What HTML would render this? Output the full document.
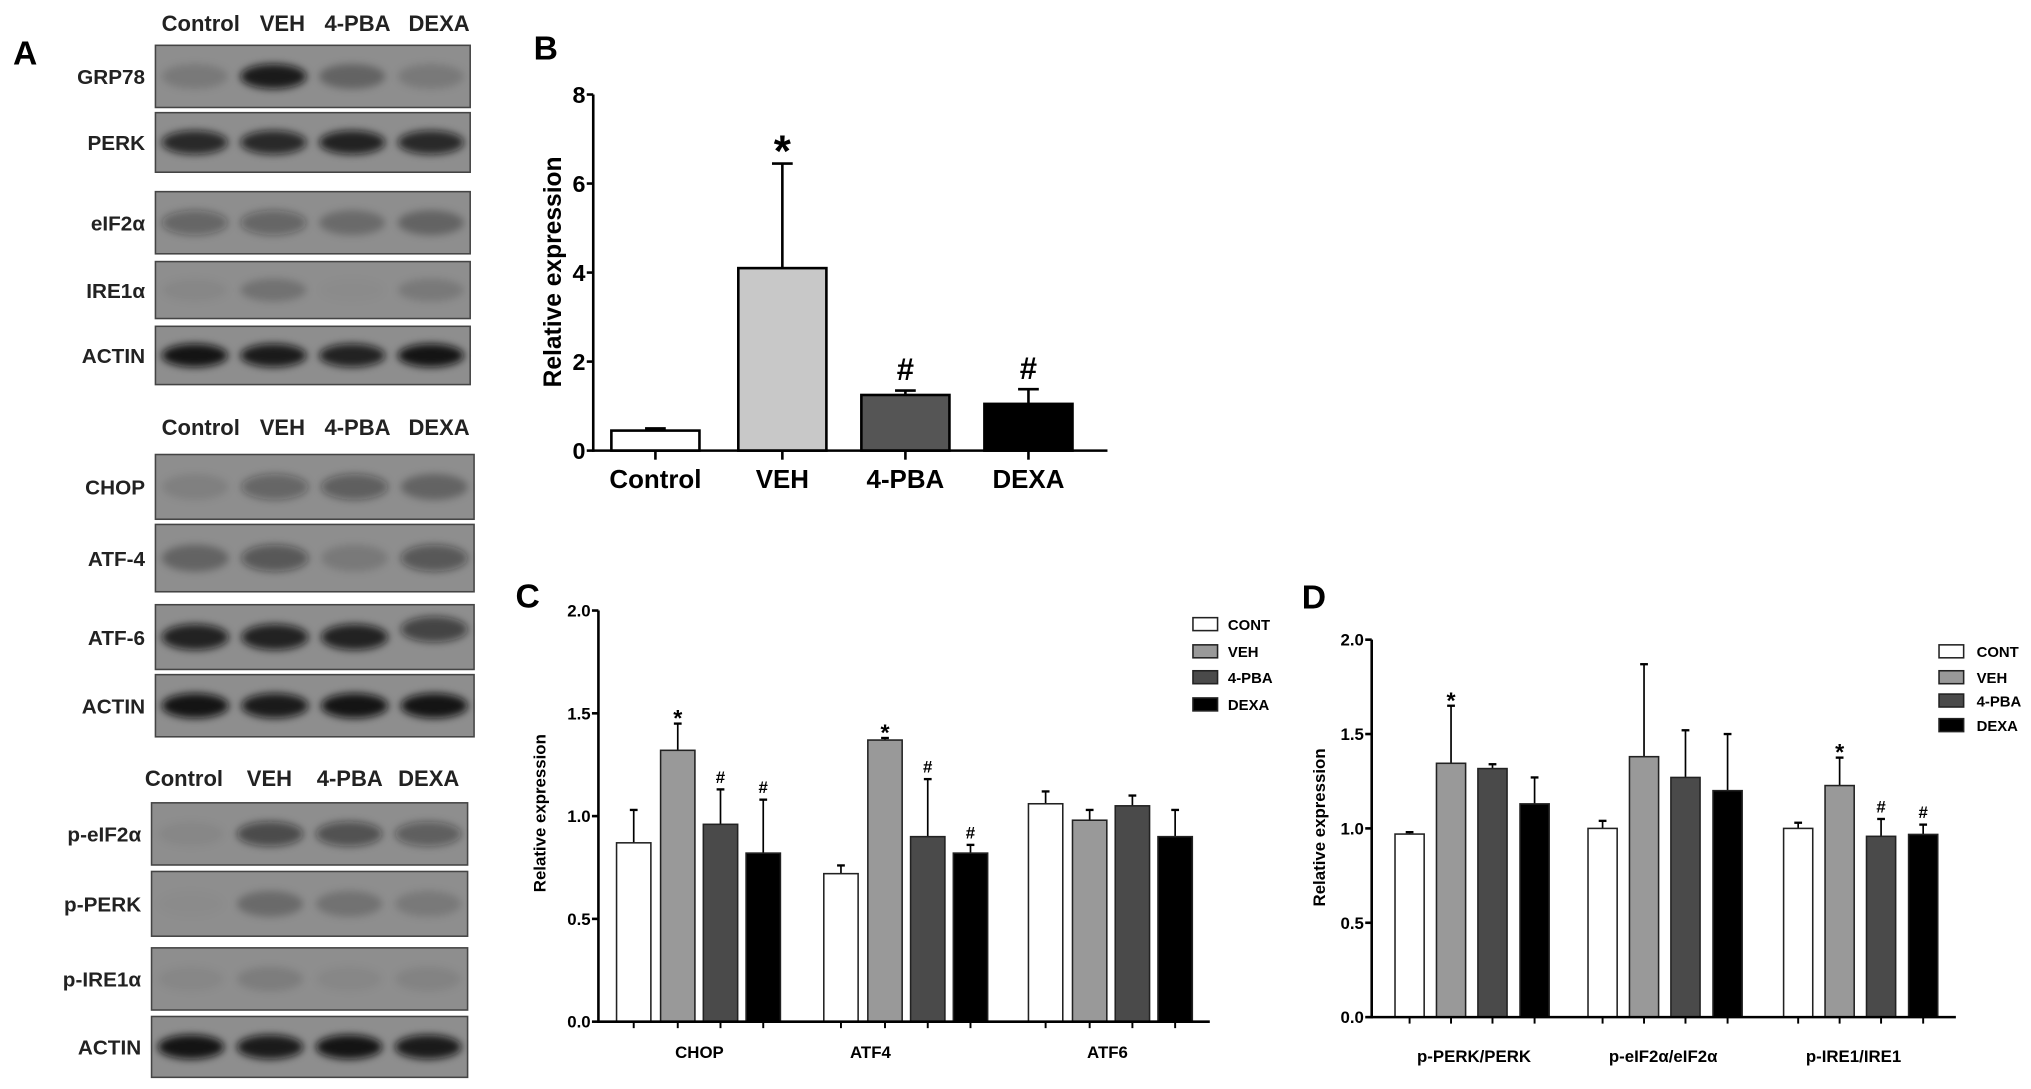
<!DOCTYPE html>
<html><head><meta charset="utf-8"><style>
html,body{margin:0;padding:0;background:#fff;}
svg{display:block;font-family:"Liberation Sans",Arial,sans-serif;}
</style></head><body>
<svg id="fig" width="2031" height="1089" viewBox="0 0 1568 841" preserveAspectRatio="none" xmlns="http://www.w3.org/2000/svg">
<defs>
<filter id="blur" x="-50%" y="-50%" width="200%" height="200%"><feGaussianBlur stdDeviation="3"/></filter>
</defs>
<g id="blots"></g>
<g id="chartB"></g>
<g id="chartC"></g>
<g id="chartD"></g>
</svg>
<script>
// ---- Panel B data ----
const bCategories = ["Control","VEH","4-PBA","DEXA"];
const bValues = [0.45, 4.1, 1.25, 1.05];
const bErrTop = [0.5, 6.45, 1.35, 1.38];
const bMarks = ["", "*", "#", "#"];
const bTicks = [0,2,4,6,8];
// ---- Panel C data ----
const cCategories = ["CHOP","ATF4","ATF6"];
const cSeries = ["CONT","VEH","4-PBA","DEXA"];
const cCONT = [0.87, 0.72, 1.06];
const cVEH = [1.32, 1.37, 0.98];
const cPBA = [0.96, 0.90, 1.05];
const cDEXA = [0.82, 0.82, 0.90];
const cErrCONT = [1.03, 0.76, 1.12];
const cErrVEH = [1.45, 1.38, 1.03];
const cErrPBA = [1.13, 1.18, 1.10];
const cErrDEXA = [1.08, 0.86, 1.03];
const cMarksVEH = ["*","*",""];
const cMarksPBA = ["#","#",""];
const cMarksDEXA = ["#","#",""];
const cTicks = ["0.0","0.5","1.0","1.5","2.0"];
// ---- Panel D data ----
const dCategories = ["p-PERK/PERK","p-eIF2\u03b1/eIF2\u03b1","p-IRE1/IRE1"];
const dCONT = [0.97, 1.0, 1.0];
const dVEH = [1.345, 1.38, 1.227];
const dPBA = [1.317, 1.27, 0.958];
const dDEXA = [1.13, 1.20, 0.968];
const dErrCONT = [0.98, 1.04, 1.03];
const dErrVEH = [1.65, 1.87, 1.375];
const dErrPBA = [1.34, 1.52, 1.05];
const dErrDEXA = [1.27, 1.50, 1.02];
const dMarksVEH = ["*","","*"];
const dMarksPBA = ["","","#"];
const dMarksDEXA = ["","","#"];
const dTicks = ["0.0","0.5","1.0","1.5","2.0"];

const NS="http://www.w3.org/2000/svg";
function mk(parent,tag,attrs,text){const e=document.createElementNS(NS,tag);for(const k in attrs)e.setAttribute(k,attrs[k]);if(text!==undefined)e.textContent=text;parent.appendChild(e);return e;}

// ---------- Blots ----------
const blots=document.getElementById('blots');
function header(y,xs){const names=["Control","VEH","4-PBA","DEXA"];names.forEach((n,i)=>{const t=mk(blots,'text',{x:xs[i],y:y,'text-anchor':'middle','font-size':17,'font-weight':'bold',fill:'#222'},n);

});}
header(24,[155,218,276,339]);header(336,[155,218,276,339]);header(607,[142,208,270,331]);
const labA=mk(blots,'text',{x:10,y:50,'font-size':26,'font-weight':'bold'},'A');

const blotRows=[
 ["GRP78",120,363,35,83,[0.15,0.9,0.3,0.15],0],
 ["PERK",120,363,87,133,[0.8,0.8,0.85,0.8],0],
 ["eIF2\u03b1",120,363,148,196,[0.35,0.35,0.25,0.3],0],
 ["IRE1\u03b1",120,363,202,246,[0.05,0.2,0.02,0.15],0],
 ["ACTIN",120,363,252,297,[0.95,0.9,0.85,0.95],0],
 ["CHOP",120,366,351,401,[0.1,0.35,0.4,0.3],0],
 ["ATF-4",120,366,405,457,[0.3,0.45,0.15,0.45],0],
 ["ATF-6",120,366,467,517,[0.85,0.85,0.85,0.6],1],
 ["ACTIN",120,366,521,569,[0.95,0.9,0.95,0.95],0],
 ["p-eIF2\u03b1",117,361,620,668,[0.05,0.55,0.5,0.4],0],
 ["p-PERK",117,361,673,723,[0.02,0.25,0.2,0.15],0],
 ["p-IRE1\u03b1",117,361,732,780,[0.05,0.12,0.05,0.08],0],
 ["ACTIN",117,361,785,832,[0.95,0.9,0.95,0.9],0]
];
blotRows.forEach((r,ri)=>{
 const [name,x1,x2,y1,y2,ints,shift]=r;
 const g=mk(blots,'g',{});
 
 
 mk(g,'rect',{x:x1,y:y1,width:x2-x1,height:y2-y1,fill:'#8e8e8e',stroke:'#444','stroke-width':1.2});
 const w=(x2-x1)/4;const cy=(y1+y2)/2;
 ints.forEach((v,i)=>{const cx=x1+w*(i+0.5);const yy=(shift&&i===3)?cy-6:cy;
  mk(g,'ellipse',{cx:cx,cy:yy,rx:w*0.42,ry:(y2-y1)*0.2,fill:'#111','fill-opacity':v,filter:'url(#blur)'});});
 const lbl=mk(g,'text',{x:x1-8,y:cy+6,'text-anchor':'end','font-size':16,'font-weight':'bold',fill:'#222'},name);
});

// ---------- generic axis helpers ----------
function yAxis(g,x,y0,yTop,vmax,ticks,fs,w){
 mk(g,'line',{x1:x,y1:y0+1,x2:x,y2:yTop,stroke:'#000','stroke-width':w});
 ticks.forEach(t=>{const v=parseFloat(t);const y=y0-(y0-yTop)*v/vmax;
  mk(g,'line',{x1:x-5,y1:y,x2:x,y2:y,stroke:'#000','stroke-width':w});
  const tt=mk(g,'text',{x:x-6,y:y+fs*0.36,'text-anchor':'end','font-size':fs,'font-weight':'bold'},t);
  });
}

// ---------- Panel B ----------
(function(){
 const g=document.getElementById('chartB');
 const X0=458,Y0=348,YT=73,VMAX=8,XEND=855;
 const y=v=>Y0-(Y0-YT)*v/VMAX;
 const centers=[506,604,699,794];const bw=68;
 const fills=['#ffffff','#c8c8c8','#555555','#000000'];
 const lb=mk(g,'text',{x:412,y:46,'font-size':26,'font-weight':'bold'},'B');
 
 bCategories.forEach((c,i)=>{
  const cx=centers[i];
  const el=mk(g,'line',{x1:cx,y1:y(bValues[i]),x2:cx,y2:y(bErrTop[i]),stroke:'#000','stroke-width':2});
  mk(g,'line',{x1:cx-8,y1:y(bErrTop[i]),x2:cx+8,y2:y(bErrTop[i]),stroke:'#000','stroke-width':2});
  const r=mk(g,'rect',{x:cx-bw/2,y:y(bValues[i]),width:bw,height:Y0-y(bValues[i]),fill:fills[i],stroke:'#000','stroke-width':2});
  
  
  mk(g,'line',{x1:cx,y1:Y0,x2:cx,y2:Y0+7,stroke:'#000','stroke-width':2});
  const t=mk(g,'text',{x:cx,y:377,'text-anchor':'middle','font-size':20,'font-weight':'bold'},c);
  
  if(bMarks[i]){const m=mk(g,'text',{x:cx,y:y(bErrTop[i])-(bMarks[i]==='*'?-2:8),'text-anchor':'middle','font-size':bMarks[i]==='*'?34:24,'font-weight':'bold'},bMarks[i]);
   }
 });
 mk(g,'line',{x1:X0,y1:Y0,x2:XEND,y2:Y0,stroke:'#000','stroke-width':2});
 yAxis(g,X0,Y0,YT,VMAX,bTicks.map(String),18,2);
 const yt=mk(g,'text',{x:0,y:0,transform:'translate(433,210) rotate(-90)','text-anchor':'middle','font-size':19,'font-weight':'bold'},'Relative expression');
 
})();

// ---------- grouped charts ----------
function grouped(g,opt,cats,vals,errs,marks,labelNames){
 const {X0,Y0,YT,XEND,starts,offs,bw,legX,legY,legLabX,catX,catY,title,titleX,titleY,panel,panelX,panelY}=opt;
 const y=v=>Y0-(Y0-YT)*v/2;
 const fills=['#ffffff','#999999','#4a4a4a','#000000'];
 const pl=mk(g,'text',{x:panelX,y:panelY,'font-size':26,'font-weight':'bold'},panel);
 
 cats.forEach((c,ci)=>{
  for(let s=0;s<4;s++){
   const x=starts[ci]+offs[s];const cx=x+bw/2;const v=vals[s][ci],e=errs[s][ci];
   mk(g,'line',{x1:cx,y1:y(v),x2:cx,y2:y(e),stroke:'#000','stroke-width':1.3});
   mk(g,'line',{x1:cx-3,y1:y(e),x2:cx+3,y2:y(e),stroke:'#000','stroke-width':1.8});
   const r=mk(g,'rect',{x:x,y:y(v),width:bw,height:Y0-y(v),fill:fills[s],stroke:'#222','stroke-width':1.2});
   
   
   mk(g,'line',{x1:cx,y1:Y0,x2:cx,y2:Y0+5,stroke:'#000','stroke-width':1.5});
   const mm=marks[s]?marks[s][ci]:"";
   if(mm){const m=mk(g,'text',{x:cx,y:y(e)-(mm==='*'?-2:5),'text-anchor':'middle','font-size':mm==='*'?18:13,'font-weight':'bold'},mm);
    }
  }
  const t=mk(g,'text',{x:catX[ci],y:catY,'text-anchor':'middle','font-size':13,'font-weight':'bold'},c);
  
 });
 mk(g,'line',{x1:X0,y1:Y0,x2:XEND,y2:Y0,stroke:'#000','stroke-width':2});
 yAxis(g,X0,Y0,YT,2,opt.ticks,13,2);
 const yt=mk(g,'text',{x:0,y:0,transform:`translate(${titleX},${titleY}) rotate(-90)`,'text-anchor':'middle','font-size':13,'font-weight':'bold'},title);
 
 labelNames.forEach((n,s)=>{
  const lg=mk(g,'g',{});
  
  
  mk(lg,'rect',{x:legX,y:legY[s]-5,width:19,height:10,fill:fills[s],stroke:'#222','stroke-width':1.2});
  mk(lg,'text',{x:legLabX,y:legY[s]+4.5,'font-size':11.5,'font-weight':'bold'},n);
 });
}
grouped(document.getElementById('chartC'),{X0:462,Y0:789,YT:471.5,XEND:934,starts:[476,636,794],offs:[0,34,67,100],bw:26.5,
 legX:921,legY:[482,503,523,544],legLabX:948,catX:[540,672,855],catY:817,ticks:cTicks,title:'Relative expression',titleX:421,titleY:628,panel:'C',panelX:398,panelY:469},
 cCategories,[cCONT,cVEH,cPBA,cDEXA],[cErrCONT,cErrVEH,cErrPBA,cErrDEXA],[null,cMarksVEH,cMarksPBA,cMarksDEXA],cSeries);
grouped(document.getElementById('chartD'),{X0:1059,Y0:785.5,YT:494,XEND:1510,starts:[1077,1226,1377],offs:[0,32,64,96.5],bw:22.5,
 legX:1497,legY:[503,523,541,560],legLabX:1526,catX:[1138,1284,1431],catY:820,ticks:dTicks,title:'Relative expression',titleX:1023,titleY:639,panel:'D',panelX:1005,panelY:470},
 dCategories,[dCONT,dVEH,dPBA,dDEXA],[dErrCONT,dErrVEH,dErrPBA,dErrDEXA],[null,dMarksVEH,dMarksPBA,dMarksDEXA],cSeries);
</script>
</body></html>
